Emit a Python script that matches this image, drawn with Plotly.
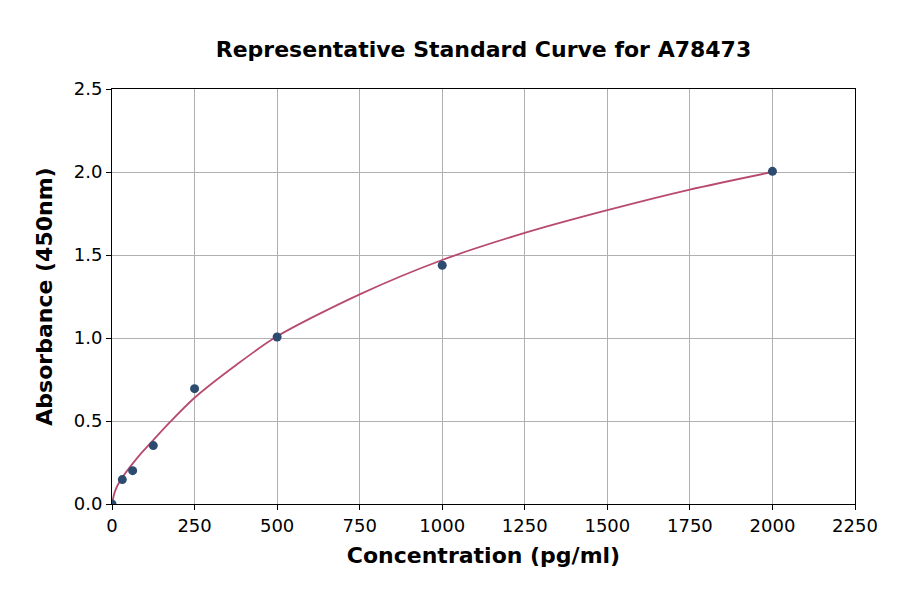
import plotly.graph_objects as go

# standard points
conc = [0, 31.25, 62.5, 125, 250, 500, 1000, 2000]
absorb = [0.0, 0.147, 0.201, 0.352, 0.695, 1.006, 1.438, 2.004]

# fitted curve
curve_x = [0, 2, 8, 17, 31.25, 62.5, 88, 125, 174, 250, 375, 500, 750, 1000, 1250, 1500, 1750, 2000]
curve_y = [0.0, 0.022, 0.07, 0.113, 0.16, 0.243, 0.305, 0.385, 0.49, 0.64, 0.836, 1.01, 1.263, 1.47, 1.633, 1.77, 1.894, 2.0]

x_ticks = [0, 250, 500, 750, 1000, 1250, 1500, 1750, 2000, 2250]
y_ticks = [0.0, 0.5, 1.0, 1.5, 2.0, 2.5]

fig = go.Figure()
fig.add_trace(go.Scatter(x=curve_x, y=curve_y, mode='lines',
                         line=dict(color='#b84a6e', width=1.8, shape='spline', smoothing=0.8),
                         hoverinfo='skip'))
fig.add_trace(go.Scatter(x=conc, y=absorb, mode='markers',
                         marker=dict(color='#2c4b6e', size=9)))

axis_style = dict(showline=True, linecolor='black', linewidth=1, mirror=True,
                  showgrid=True, gridcolor='#b0b0b0', gridwidth=1,
                  ticks='outside', ticklen=5, tickcolor='black',
                  tickfont=dict(family='DejaVu Sans', size=18, color='black'),
                  zeroline=False)

fig.update_layout(
    width=900, height=594,
    paper_bgcolor='white', plot_bgcolor='white',
    margin=dict(l=104, r=53, t=81, b=98),
    showlegend=False,
    title=dict(text='<b>Representative Standard Curve for A78473</b>',
               x=0.5283, xanchor='center', y=0.931, yanchor='middle',
               font=dict(family='DejaVu Sans', size=22, color='black')),
    xaxis=dict(range=[0, 2250], tickvals=x_ticks,
               ticktext=[str(v) for v in x_ticks],
               title=dict(text='<b>Concentration (pg/ml)</b>', standoff=13,
                          font=dict(family='DejaVu Sans', size=22, color='black')),
               **axis_style),
    yaxis=dict(range=[0, 2.5], tickvals=y_ticks,
               ticktext=['%.1f' % v for v in y_ticks],
               title=dict(text='<b>Absorbance (450nm)</b>', standoff=15,
                          font=dict(family='DejaVu Sans', size=22, color='black')),
               **axis_style),
)

fig.write_html("out.html")
